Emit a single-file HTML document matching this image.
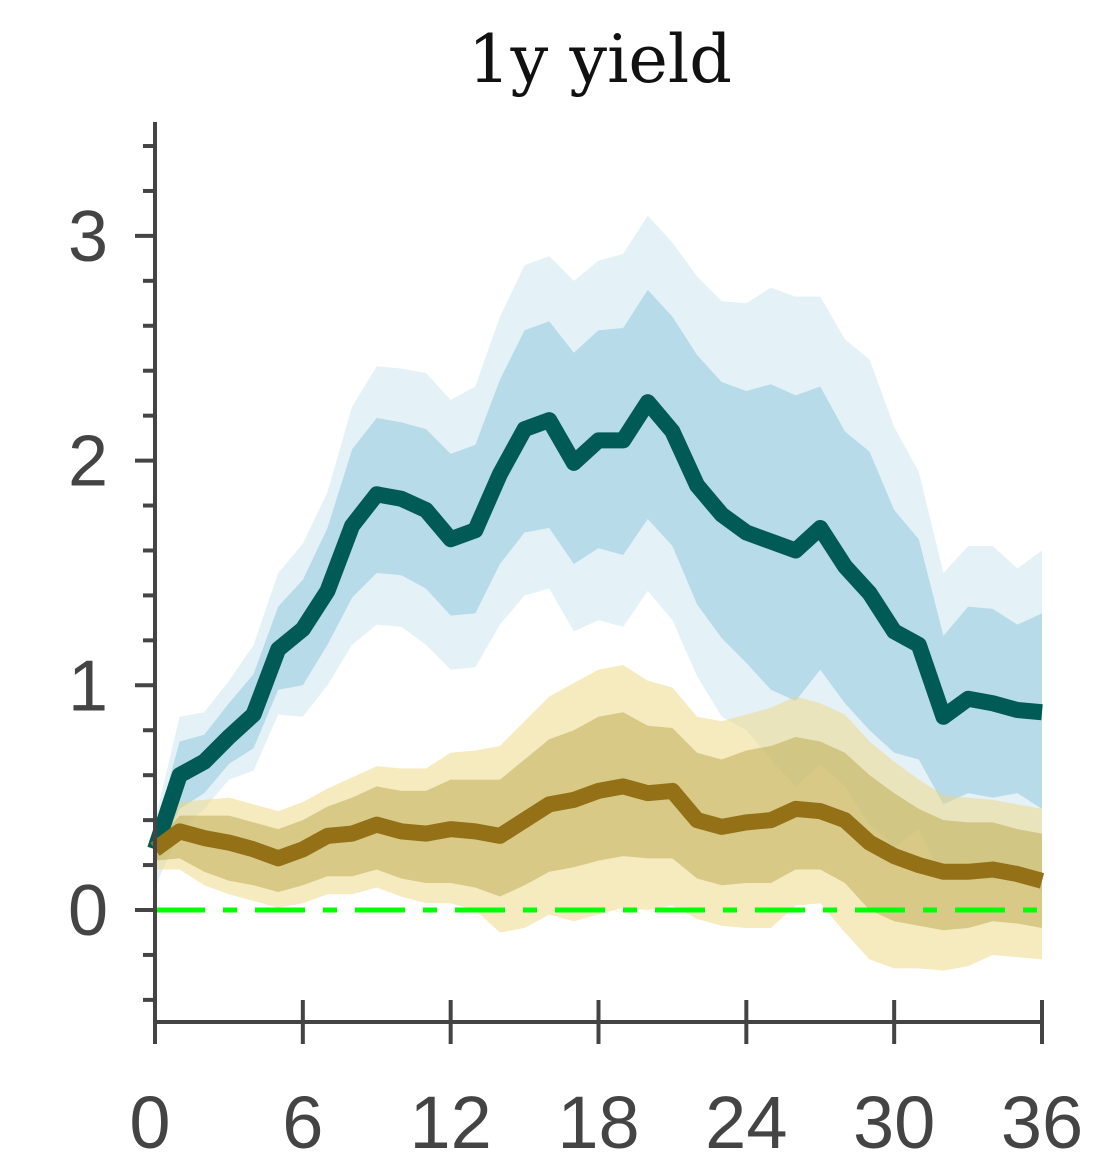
<!DOCTYPE html>
<html><head><meta charset="utf-8"><style>
body{margin:0;background:#fff}
svg{display:block}
</style></head><body>
<svg id="chart" width="1114" height="1176" xmlns="http://www.w3.org/2000/svg">
<text x="600" y="82" text-anchor="middle" font-family="DejaVu Serif, serif" font-size="66" fill="#111" textLength="264" lengthAdjust="spacingAndGlyphs">1y yield</text>
<g id="plot"></g>
</svg>
<script>
const months=[...Array(37).keys()];
const blueMed=[0.27,0.60,0.66,0.77,0.87,1.16,1.25,1.42,1.71,1.85,1.83,1.78,1.65,1.69,1.94,2.14,2.18,1.99,2.09,2.09,2.26,2.13,1.89,1.76,1.68,1.64,1.60,1.70,1.53,1.41,1.24,1.18,0.86,0.94,0.92,0.89,0.88];
const blueHi68=[0.35,0.75,0.78,0.92,1.05,1.35,1.47,1.70,2.05,2.19,2.17,2.14,2.03,2.07,2.36,2.58,2.62,2.48,2.58,2.59,2.76,2.64,2.47,2.35,2.31,2.34,2.29,2.33,2.13,2.04,1.78,1.65,1.22,1.35,1.34,1.27,1.32];
const blueLo68=[0.20,0.45,0.52,0.65,0.72,0.98,1.00,1.18,1.39,1.50,1.49,1.43,1.31,1.32,1.54,1.68,1.70,1.54,1.61,1.58,1.74,1.62,1.36,1.21,1.10,0.98,0.93,1.07,0.92,0.80,0.70,0.67,0.47,0.52,0.50,0.52,0.45];
const blueHi90=[0.40,0.86,0.88,1.02,1.18,1.50,1.63,1.86,2.24,2.42,2.41,2.39,2.27,2.33,2.64,2.87,2.91,2.80,2.89,2.92,3.09,2.97,2.82,2.71,2.70,2.77,2.73,2.73,2.54,2.45,2.15,1.95,1.50,1.62,1.62,1.52,1.60];
const blueLo90=[0.10,0.35,0.45,0.58,0.62,0.87,0.86,1.00,1.18,1.27,1.26,1.18,1.07,1.08,1.27,1.40,1.43,1.24,1.29,1.26,1.42,1.29,1.04,0.86,0.80,0.67,0.55,0.65,0.55,0.38,0.28,0.36,0.13,0.15,0.13,0.17,0.08];
const brownMed=[0.27,0.35,0.32,0.30,0.27,0.23,0.27,0.33,0.34,0.38,0.35,0.34,0.36,0.35,0.33,0.40,0.47,0.49,0.53,0.55,0.52,0.53,0.40,0.37,0.39,0.40,0.45,0.44,0.40,0.30,0.24,0.20,0.17,0.17,0.18,0.16,0.13];
const brownHi68=[0.30,0.42,0.42,0.42,0.39,0.36,0.40,0.46,0.50,0.55,0.53,0.53,0.58,0.58,0.58,0.67,0.76,0.80,0.86,0.88,0.82,0.81,0.70,0.67,0.71,0.73,0.77,0.75,0.70,0.60,0.52,0.45,0.40,0.39,0.39,0.36,0.34];
const brownLo68=[0.22,0.23,0.17,0.13,0.11,0.08,0.11,0.15,0.15,0.18,0.14,0.12,0.12,0.10,0.06,0.11,0.17,0.19,0.22,0.24,0.23,0.23,0.14,0.11,0.12,0.12,0.18,0.18,0.12,0.00,-0.05,-0.07,-0.09,-0.08,-0.05,-0.06,-0.08];
const brownHi90=[0.33,0.48,0.49,0.50,0.47,0.44,0.48,0.54,0.59,0.64,0.63,0.63,0.70,0.71,0.73,0.84,0.95,1.01,1.07,1.09,1.02,0.99,0.86,0.84,0.87,0.90,0.95,0.92,0.87,0.75,0.66,0.58,0.51,0.50,0.49,0.47,0.45];
const brownLo90=[0.18,0.18,0.11,0.07,0.04,0.01,0.03,0.07,0.07,0.10,0.06,0.03,0.03,0.00,-0.10,-0.08,-0.02,-0.05,-0.02,0.01,0.00,0.02,-0.04,-0.07,-0.08,-0.08,0.02,0.03,-0.10,-0.22,-0.26,-0.26,-0.27,-0.25,-0.20,-0.21,-0.22];
const xTicks=[0,6,12,18,24,30,36];
const yTicks=[0,1,2,3];

const X=v=>155+v*(1042-155)/36;
const Y=v=>910-v*224.7;
const NS='http://www.w3.org/2000/svg';
const g=document.getElementById('plot');
function mk(tag,attrs){const e=document.createElementNS(NS,tag);for(const k in attrs)e.setAttribute(k,attrs[k]);g.appendChild(e);return e;}
function band(lo,hi,fill,op){
  let d='M'+months.map(i=>X(i)+','+Y(hi[i])).join('L');
  d+='L'+months.slice().reverse().map(i=>X(i)+','+Y(lo[i])).join('L')+'Z';
  return mk('path',{d:d,fill:fill,'fill-opacity':op});
}
function line(vals,col){
  const d='M'+months.map(i=>X(i)+','+Y(vals[i])).join('L');
  return mk('path',{d:d,fill:'none',stroke:col,'stroke-width':16,'stroke-linejoin':'round'});
}
let e;
e=band(blueLo90,blueHi90,'#add8e6',0.33);


e=band(blueLo68,blueHi68,'#9acbe0',0.6);


e=band(brownLo90,brownHi90,'#eed680',0.5);


e=band(brownLo68,brownHi68,'#b3a140',0.45);


e=mk('line',{x1:X(0),x2:X(36),y1:Y(0),y2:Y(0),stroke:'#00ff00','stroke-width':5,'stroke-dasharray':'50 18 14 18'});


e=line(blueMed,'#005a55');


e=line(brownMed,'#947016');


// axes
e=mk('line',{x1:155,x2:155,y1:122,y2:1024,stroke:'#444','stroke-width':4});


e=mk('line',{x1:153,x2:1044,y1:1022,y2:1022,stroke:'#444','stroke-width':4});


for(let k=-2;k<=17;k++){
  const v=k*0.2;
  const major=Math.abs(v-Math.round(v))<1e-6;
  e=mk('line',{x1:major?135:143,x2:157,y1:Y(v),y2:Y(v),stroke:'#444','stroke-width':4});
  
  
}
yTicks.forEach(t=>{
  e=mk('text',{x:108,y:Y(t)+25,'text-anchor':'end','font-family':'Liberation Sans, sans-serif','font-size':72,fill:'#444'});
  e.textContent=t;
  
  
});
xTicks.forEach(t=>{
  e=mk('line',{x1:X(t),x2:X(t),y1:1000,y2:1044,stroke:'#444','stroke-width':4});
  
  
  e=mk('text',{x:X(t)-(t===0?5:0),y:1148,'text-anchor':'middle','font-family':'Liberation Sans, sans-serif','font-size':74,fill:'#444'});
  e.textContent=t;
  
  
});
</script>
</body></html>
